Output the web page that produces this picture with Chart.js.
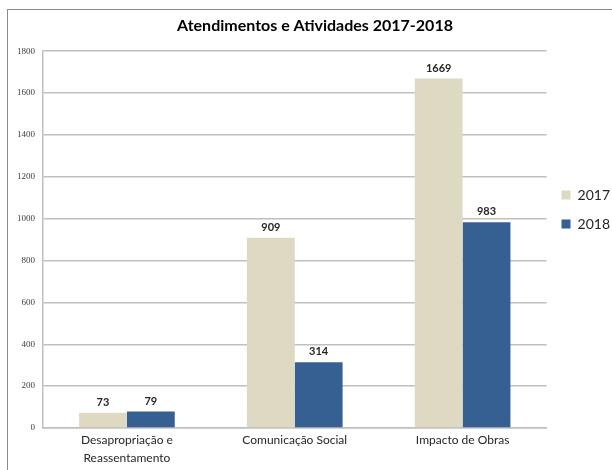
<!DOCTYPE html>
<html>
<head>
<meta charset="utf-8">
<script src="https://cdn.jsdelivr.net/npm/chart.js@4/dist/chart.umd.min.js"></script>
<style>
    body { margin: 0; background: #fff; }
    #wrap { position: relative; width: 612px; height: 470px; overflow: hidden; }
    #frame { position: absolute; left: 7px; top: 9px; width: 700px; height: 600px; border: 1px solid #8c8c8c; }
    #chart { position: absolute; left: 0; top: 0; }
</style>
</head>
<body>
<div id="wrap">
    <div id="frame"></div>
    <canvas id="chart" width="612" height="470"></canvas>
</div>
<script>
const categories = [["Desapropriação e", "Reassentamento"], "Comunicação Social", "Impacto de Obras"];
const values2017 = [73, 909, 1669];
const values2018 = [79, 314, 983];
const yTicks = [0, 200, 400, 600, 800, 1000, 1200, 1400, 1600, 1800];

// draws the numbers above each bar
const valueLabels = {
    id: 'valueLabels',
    afterDatasetsDraw(chart) {
        const ctx = chart.ctx;
        ctx.save();
        ctx.font = 'bold 11px Lato';
        ctx.fillStyle = '#262626';
        ctx.textAlign = 'center';
        ctx.textBaseline = 'bottom';
        chart.data.datasets.forEach((ds, i) => {
            chart.getDatasetMeta(i).data.forEach((bar, j) => {
                ctx.fillText(ds.data[j], bar.x, bar.y - 5);
            });
        });
        ctx.restore();
    }
};

new Chart(document.getElementById('chart'), {
    type: 'bar',
    data: {
        labels: categories,
        datasets: [
            { label: '2017', data: values2017, backgroundColor: '#ddd9c3', borderWidth: 0 },
            { label: '2018', data: values2018, backgroundColor: '#376092', borderWidth: 0 }
        ]
    },
    options: {
        responsive: false,
        animation: false,
        layout: { padding: { left: 10, right: -8, top: 0, bottom: 0 } },
        datasets: { bar: { categoryPercentage: 0.57, barPercentage: 1.0 } },
        plugins: {
            title: {
                display: true,
                text: 'Atendimentos e Atividades 2017-2018',
                font: { family: 'Lato', size: 16, weight: 'bold' },
                color: '#000',
                padding: { top: 16, bottom: 16 }
            },
            legend: {
                position: 'right',
                align: 'start',
                title: { display: true, text: ' ', padding: { top: 161, bottom: 0 }, font: { size: 10 } },
                labels: {
                    boxWidth: 9,
                    boxHeight: 9,
                    padding: 15,
                    color: '#262626',
                    font: { family: 'Lato', size: 14 }
                }
            },
            tooltip: { enabled: false }
        },
        scales: {
            x: {
                grid: { display: false, drawTicks: false },
                border: { color: '#bfbfbf', width: 1.5 },
                ticks: {
                    color: '#262626',
                    font: { family: 'Lato', size: 12, lineHeight: 1.5 },
                    padding: 3,
                    maxRotation: 0
                }
            },
            y: {
                min: 0,
                max: 1800,
                afterBuildTicks(scale) {
                    scale.ticks = yTicks.map(v => ({ value: v }));
                },
                afterFit(scale) {
                    scale.width = 33;
                },
                grid: { color: '#bfbfbf', lineWidth: 1.5, drawTicks: false },
                border: { color: '#bfbfbf', width: 1.5 },
                ticks: {
                    color: '#404040',
                    font: { family: 'Liberation Serif', size: 9 },
                    padding: 8,
                    callback: v => String(v)
                }
            }
        }
    },
    plugins: [valueLabels]
});
</script>
</body>
</html>
